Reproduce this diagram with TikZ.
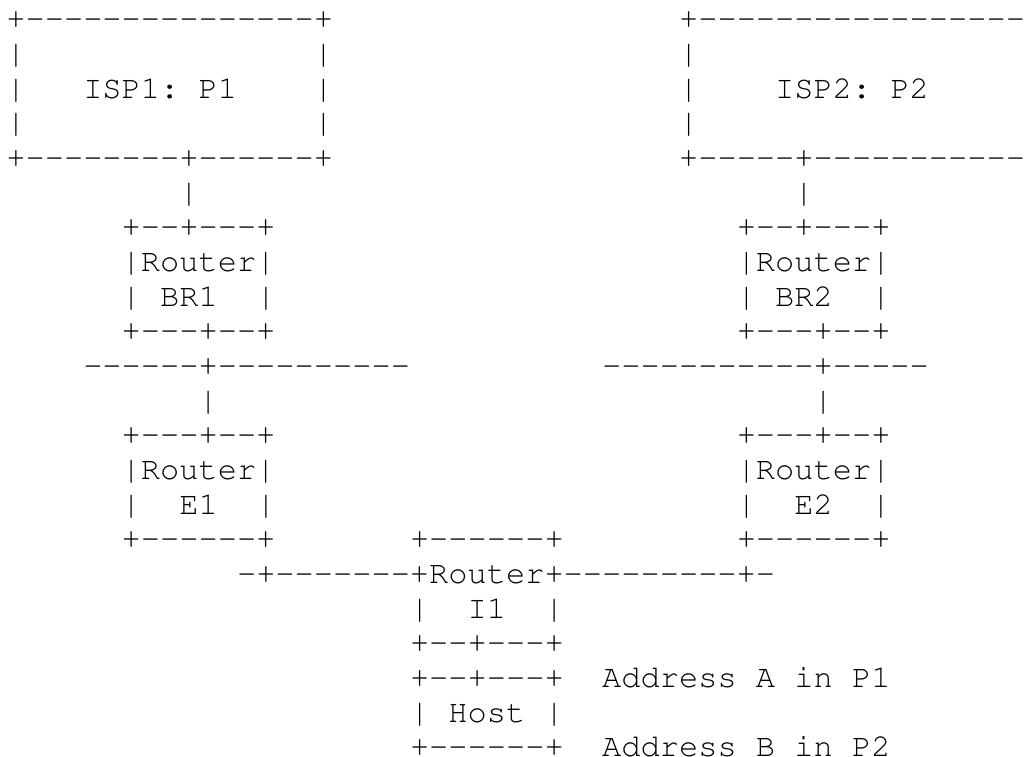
\documentclass[tikz,border=0pt]{standalone}
\usepackage[T1,TU]{fontenc}
\usepackage{tikz}
\usetikzlibrary{positioning}
\tikzset{ascii/.style={anchor=base west, inner sep=0pt, outer sep=0pt, text depth=0pt,
	font=\fontencoding{T1}\fontfamily{pcr}\fontsize{32.03}{34.65}\selectfont\frenchspacing}}
\newcommand\dashes[1]{\foreach\k in {1,...,#1}{-}}
% text at character column #2 and line #3
\newcommand\asc[4]{\node[ascii] (#1) at ({6.39+19.22*#2},{-29-34.65*(#3-1)}) {#4};}

\begin{document}
\begin{tikzpicture}[x=1pt, y=1pt]
	\useasboundingbox (0,0) rectangle (1033,-757);
	% providers
	\asc{isp1t}{0}{1}{+\dashes{15}+}
	\asc{isp2t}{35}{1}{+\dashes{17}}
	\foreach \r in {2,3,4} {
		\asc{isp1l\r}{0}{\r}{|}
		\asc{isp1r\r}{16}{\r}{|}
		\asc{isp2l\r}{35}{\r}{|}
	}
	\asc{isp1}{4}{3}{ISP1: P1}
	\asc{isp2}{40}{3}{ISP2: P2}
	\asc{isp1b}{0}{5}{+\dashes{8}+\dashes{6}+}
	\asc{isp2b}{35}{5}{+\dashes{5}+\dashes{11}}
	\asc{up1}{9}{6}{|}
	\asc{up2}{41}{6}{|}
	% border routers
	\asc{br1t}{6}{7}{+\dashes{2}+\dashes{3}+}
	\asc{br2t}{38}{7}{+\dashes{2}+\dashes{3}+}
	\asc{br1r}{6}{8}{|Router|}
	\asc{br2r}{38}{8}{|Router|}
	\asc{br1l}{6}{9}{|}
	\asc{br1}{8}{9}{BR1}
	\asc{br1e}{13}{9}{|}
	\asc{br2l}{38}{9}{|}
	\asc{br2}{40}{9}{BR2}
	\asc{br2e}{45}{9}{|}
	\asc{br1b}{6}{10}{+\dashes{3}+\dashes{2}+}
	\asc{br2b}{38}{10}{+\dashes{3}+\dashes{2}+}
	\asc{lan1}{4}{11}{\dashes{6}+\dashes{10}}
	\asc{lan2}{31}{11}{\dashes{11}+\dashes{5}}
	\asc{dn1}{10}{12}{|}
	\asc{dn2}{42}{12}{|}
	% edge routers
	\asc{e1t}{6}{13}{+\dashes{3}+\dashes{2}+}
	\asc{e2t}{38}{13}{+\dashes{3}+\dashes{2}+}
	\asc{e1r}{6}{14}{|Router|}
	\asc{e2r}{38}{14}{|Router|}
	\asc{e1l}{6}{15}{|}
	\asc{e1}{9}{15}{E1}
	\asc{e1e}{13}{15}{|}
	\asc{e2l}{38}{15}{|}
	\asc{e2}{41}{15}{E2}
	\asc{e2e}{45}{15}{|}
	\asc{e1b}{6}{16}{+\dashes{6}+}
	\asc{i1t}{21}{16}{+\dashes{6}+}
	\asc{e2b}{38}{16}{+\dashes{6}+}
	% internal router and host
	\asc{lan3}{12}{17}{-+\dashes{7}+Router+\dashes{9}+-}
	\asc{i1l}{21}{18}{|}
	\asc{i1}{24}{18}{I1}
	\asc{i1e}{28}{18}{|}
	\asc{i1b}{21}{19}{+\dashes{2}+\dashes{3}+}
	\asc{hostt}{21}{20}{+\dashes{2}+\dashes{3}+}
	\asc{addra}{31}{20}{Address A in P1}
	\asc{hostl}{21}{21}{|}
	\asc{host}{23}{21}{Host}
	\asc{hoste}{28}{21}{|}
	\asc{hostb}{21}{22}{+\dashes{6}+}
	\asc{addrb}{31}{22}{Address B in P2}
\end{tikzpicture}
\end{document}
